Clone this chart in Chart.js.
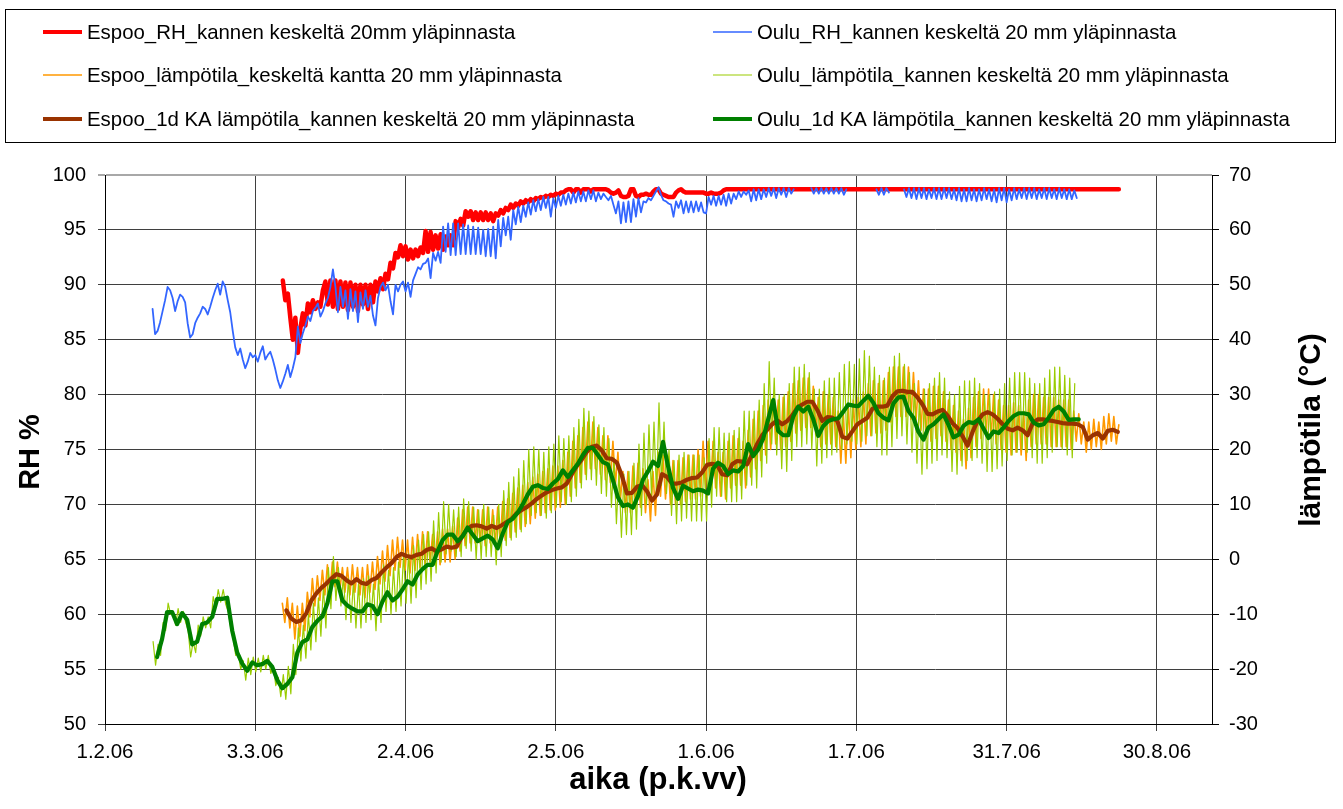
<!DOCTYPE html>
<html>
<head>
<meta charset="utf-8">
<title>RH ja lämpötila</title>
<script src="https://cdn.jsdelivr.net/npm/chart.js@4/dist/chart.umd.min.js"></script>
<style>
  html, body { margin: 0; padding: 0; background: #fff; }
  #wrap { position: relative; width: 1343px; height: 809px; }
</style>
</head>
<body>
<div id="wrap"><canvas id="c" width="1343" height="809"></canvas></div>
<script>
// Time axis: days counted from 1.2.2006
const xTickLabels = ['1.2.06', '3.3.06', '2.4.06', '2.5.06', '1.6.06', '1.7.06', '31.7.06', '30.8.06'];
const xTickStep = 30;
const xMaxDay = 221;

const seriesNames = [
  'Espoo_RH_kannen keskeltä 20mm yläpinnasta',
  'Oulu_RH_kannen keskeltä 20 mm yläpinnasta',
  'Espoo_lämpötila_keskeltä kantta 20 mm yläpinnasta',
  'Oulu_lämpötila_kannen keskeltä 20 mm yläpinnasta',
  'Espoo_1d KA lämpötila_kannen keskeltä 20 mm yläpinnasta',
  'Oulu_1d KA lämpötila_kannen keskeltä 20 mm yläpinnasta'
];

// Espoo RH %, half-day readings from day 35.5, then a flat tail
const espooRhStart = 35.5;
const espooRh = [
  90.4, 88.6, 89.2, 87.0, 85.0, 87.0, 83.8, 86.0, 87.4, 86.3,
  88.3, 87.5, 88.6, 87.8, 88.4, 88.0, 89.5, 90.3, 88.2, 90.4,
  88.0, 90.4, 87.8, 90.3, 88.0, 90.2, 87.7, 90.2, 88.0, 90.0,
  87.6, 90.0, 88.2, 90.0, 87.8, 90.0, 88.4, 90.3, 89.4, 90.6,
  89.6, 91.0, 90.5, 92.0, 91.5, 92.9, 92.5, 93.6, 92.6, 93.5,
  92.3, 93.2, 92.4, 93.2, 92.6, 93.4, 92.9, 94.9, 93.0, 94.8,
  93.2, 94.5, 93.3, 94.6, 93.2, 94.4, 93.6, 94.5, 93.6, 95.8,
  95.2, 96.0, 95.4, 96.7, 96.2, 96.7, 95.9, 96.6, 95.9, 96.6,
  95.9, 96.6, 95.9, 96.5, 95.8, 96.5, 96.3, 96.8, 96.5, 97.0,
  96.8, 97.3, 97.0, 97.4, 97.2, 97.6, 97.4, 97.7, 97.5, 97.8,
  97.6, 97.9, 97.8, 98.0, 97.9, 98.1, 98.0, 98.2, 98.1, 98.3,
  98.2, 98.4, 98.4, 98.6, 98.7, 98.7, 98.4, 98.7, 98.7, 98.4,
  98.7, 98.7, 98.7, 98.5, 98.7, 98.7, 98.7, 98.7, 98.7, 98.7,
  98.6, 98.4, 98.3, 98.4, 98.6, 98.1, 98.0, 98.0, 98.1, 98.7,
  98.7, 98.1, 98.0, 98.2, 98.2, 98.3, 98.2, 98.2, 98.5, 98.7,
  98.7, 98.3, 98.2, 98.1, 98.0, 98.0, 98.0, 98.4, 98.6, 98.7,
  98.5, 98.4, 98.4, 98.4, 98.4, 98.4, 98.4, 98.4, 98.4, 98.3,
  98.3, 98.4, 98.3, 98.3, 98.3, 98.4, 98.6, 98.7
];
const espooRhTailDays = [202.4];
const espooRhTail = [98.7];

// Oulu RH %, half-day readings from day 9.5 (null = no reading)
const ouluRhStart = 9.5;
const ouluRh = [
  87.8, 85.5, 85.8, 86.6, 87.6, 88.6, 89.8, 89.5, 88.8, 87.6,
  88.5, 89.1, 88.9, 88.4, 86.5, 85.2, 85.5, 86.5, 87.0, 87.4,
  88.0, 87.8, 87.3, 88.0, 88.8, 89.5, 90.1, 89.1, 90.3, 89.8,
  88.6, 87.5, 85.8, 84.3, 83.6, 84.2, 83.2, 82.4, 83.0, 83.8,
  83.4, 83.6, 83.0, 83.8, 84.4, 83.2, 83.6, 83.9, 83.2, 82.3,
  81.3, 80.6, 81.2, 81.9, 82.7, 81.6, 82.4, 83.4, 86.2, 84.7,
  85.6, 86.3, 87.1, 86.7, 87.6, 87.9, 88.3, 87.1, 87.6, 88.3,
  88.8, 89.8, 91.4, 89.8, 87.5, 89.8, 88.0, 89.5, 86.9, 89.6,
  87.6, 89.4, 86.6, 89.3, 87.8, 89.5, 88.0, 89.0, 87.2, 86.3,
  88.8, 89.8, 90.2, 89.5, 90.0, 88.5, 87.3, 90.0, 89.4, 90.0,
  90.3, 89.4, 90.2, 88.9, 90.4, 91.0, 91.6, 91.4, 91.9, 92.0,
  92.4, 90.6, 92.9, 92.2, 93.0, 92.0, 95.3, 93.0, 95.6, 92.7,
  95.6, 92.7, 95.6, 92.8, 95.5, 92.8, 95.4, 92.8, 95.3, 92.8,
  95.2, 92.8, 95.0, 92.6, 95.1, 92.6, 95.3, 92.4, 95.9, 93.5,
  96.1, 94.5, 96.2, 94.1, 96.8, 95.5, 97.1, 95.7, 97.2, 96.2,
  97.5, 96.4, 97.7, 96.7, 97.8, 96.8, 98.0, 97.0, 98.0, 96.2,
  97.9, 97.0, 98.1, 97.2, 98.2, 97.3, 98.3, 97.4, 98.4, 97.5,
  98.5, 97.6, 98.5, 97.6, 98.6, 97.8, 98.6, 97.6, 98.4, 97.8,
  98.3, 98.0, 97.7, 98.1, 97.3, 96.5, 97.6, 95.6, 97.5, 95.7,
  97.6, 95.7, 97.8, 96.2, 97.9, 96.6, 97.6, 97.5, 97.9, 97.7,
  98.1, 98.5, 98.9, 98.2, 97.7, 97.6, 97.4, 97.3, 96.2, 97.6,
  97.0, 97.7, 96.5, 97.6, 96.6, 97.6, 96.6, 97.6, 96.7, 97.5,
  96.6, 96.5, 98.0, 97.3, 98.1, 97.2, 98.1, 97.3, 98.2, 97.2,
  98.3, 97.4, 98.3, 97.8, 98.5, 98.0, 98.5, 98.2, 98.6, 97.6,
  98.7, 97.7, 98.7, 97.8, 98.7, 98.0, 98.8, 98.1, 98.8, 97.9,
  98.8, 98.2, 98.8, 98.0, 98.8, 98.3, 98.7, null, null, null,
  null, null, null, 98.8, 98.3, 98.8, 98.3, 98.8, 98.3, 98.8,
  98.3, 98.8, 98.3, 98.8, 98.3, 98.8, 98.2, 98.7, null, null,
  null, null, null, null, null, null, null, null, null, 98.7,
  98.2, 98.8, 98.2, 98.8, 98.4, null, null, null, null, null,
  98.7, 98.0, 98.8, 97.9, 98.8, 97.8, 98.8, 97.9, 98.8, 97.8,
  98.7, 97.9, 98.8, 97.8, 98.8, 97.8, 98.8, 97.9, 98.8, 97.8,
  98.7, 97.7, 98.8, 97.6, 98.7, 97.6, 98.8, 97.7, 98.7, 97.6,
  98.7, 97.7, 98.8, 97.8, 98.7, 97.6, 98.7, 97.5, 98.8, 97.7,
  98.8, 97.5, 98.7, 97.7, 98.8, 97.8, 98.7, 97.9, 98.8, 97.8,
  98.8, 97.9, 98.8, 97.8, 98.7, 97.9, 98.8, 97.8, 98.8, 97.9,
  98.7, 97.8, 98.8, 97.9, 98.7, 97.8, 98.7, 97.8, 98.6, 97.9
];

// Espoo temperature °C, half-day readings from day 35.4
const espooTempStart = 35.4;
const espooTemp = [
  -8.0, -11.5, -7.0, -12.5, -8.0, -14.5, -8.5, -14.0, -8.0, -13.0,
  -6.0, -10.5, -3.5, -8.5, -3.0, -7.5, -2.0, -6.5, -1.0, -6.0,
  -0.5, -5.0, -0.5, -5.5, -1.5, -6.0, -1.5, -6.5, -1.0, -6.0,
  -1.5, -6.5, -1.5, -7.0, -1.0, -6.0, -0.5, -5.5, 0.5, -4.5,
  1.5, -4.0, 2.5, -3.0, 3.5, -2.0, 4.0, -1.5, 3.5, -2.0,
  3.5, -2.5, 4.0, -2.0, 4.5, -1.5, 5.0, -1.0, 5.0, -0.5,
  4.5, -1.0, 5.0, -1.0, 5.5, -0.5, 5.5, -0.5, 6.0, 0.0,
  7.5, 1.5, 9.0, 2.5, 9.5, 3.0, 9.5, 3.0, 9.0, 3.0,
  9.0, 2.5, 9.5, 3.0, 9.0, 2.5, 9.5, 3.0, 10.5, 3.5,
  11.0, 4.0, 12.0, 5.0, 13.0, 5.5, 13.5, 6.0, 14.0, 6.5,
  15.0, 7.5, 15.5, 8.0, 16.0, 8.5, 16.5, 9.0, 17.0, 9.0,
  17.0, 9.5, 18.0, 10.0, 19.5, 11.5, 21.5, 13.0, 22.5, 14.0,
  24.0, 15.5, 25.0, 16.5, 25.0, 16.5, 24.0, 15.5, 22.5, 14.5,
  22.5, 14.0, 21.5, 13.5, 19.5, 11.0, 16.0, 8.5, 16.0, 8.5,
  17.0, 9.5, 17.5, 9.5, 16.5, 8.5, 14.5, 7.0, 16.0, 8.0,
  19.5, 11.5, 19.0, 11.0, 18.0, 10.0, 18.0, 10.0, 18.0, 10.0,
  18.5, 10.5, 19.0, 11.0, 19.0, 11.0, 20.0, 11.5, 21.5, 13.0,
  21.5, 13.0, 21.5, 13.0, 19.5, 11.5, 19.5, 11.0, 21.5, 13.0,
  22.5, 13.5, 22.0, 13.5, 21.5, 13.0, 23.5, 15.0, 25.5, 16.5,
  27.0, 18.0, 28.0, 19.0, 29.0, 20.0, 29.5, 21.0, 29.0, 20.0,
  29.5, 20.5, 30.5, 21.5, 32.0, 23.0, 32.5, 23.5, 33.0, 24.0,
  33.0, 24.0, 31.5, 22.5, 29.5, 20.5, 30.5, 21.0, 30.0, 21.0,
  29.5, 20.5, 27.0, 17.5, 26.5, 17.5, 28.0, 18.5, 29.0, 20.0,
  29.5, 20.5, 30.5, 21.0, 32.0, 22.5, 32.5, 23.0, 32.0, 23.0,
  32.5, 23.5, 34.0, 25.0, 35.0, 26.0, 35.0, 26.0, 35.0, 26.0,
  35.0, 25.5, 34.0, 25.0, 32.5, 23.5, 31.0, 22.0, 31.0, 21.5,
  31.5, 22.0, 31.5, 22.5, 30.5, 21.5, 29.0, 20.0, 28.0, 19.5,
  27.0, 18.0, 25.5, 16.5, 27.5, 18.5, 29.5, 20.5, 30.5, 22.0,
  31.0, 22.5, 31.0, 22.0, 30.0, 21.0, 29.0, 20.0, 28.0, 19.5,
  28.0, 19.0, 28.5, 19.5, 28.0, 19.0, 27.0, 18.0, 29.0, 20.5,
  30.0, 21.0, 30.0, 21.0, 29.5, 21.0, 29.5, 20.5, 29.5, 20.5,
  29.0, 20.5, 29.0, 20.5, 29.0, 20.0, 27.0, 21.5, 26.5, 21.0,
  25.0, 19.5, 25.0, 20.0, 25.5, 20.5, 25.0, 20.0, 26.0, 21.0,
  26.5, 21.5, 26.0, 21.0, 24.5
];

// Oulu temperature °C, half-day readings from day 9.6
const ouluTempStart = 9.6;
const ouluTemp = [
  -15.0, -19.3, -15.5, -17.5, -11.5, -13.0, -8.0, -10.0, -9.5, -12.0,
  -9.0, -11.5, -9.5, -11.5, -13.0, -17.8, -15.0, -17.0, -12.0, -14.0,
  -10.5, -12.5, -10.5, -12.5, -6.8, -8.8, -5.5, -7.8, -5.5, -8.2,
  -9.5, -12.5, -14.5, -17.5, -17.0, -20.0, -18.5, -22.0, -18.0, -21.0,
  -17.8, -20.5, -18.0, -20.5, -17.5, -20.0, -17.5, -20.8, -19.5, -23.0,
  -21.5, -25.0, -21.0, -25.5, -19.5, -24.5, -15.5, -21.0, -12.5, -18.5,
  -12.0, -18.0, -10.0, -16.5, -8.0, -15.0, -7.0, -14.0, -5.0, -12.5,
  -1.5, -9.0, 0.5, -7.5, -1.5, -8.5, -3.0, -11.0, -3.5, -11.5,
  -4.0, -12.5, -4.5, -12.5, -3.5, -11.5, -3.0, -11.0, -4.5, -13.0,
  -3.5, -11.5, -1.0, -9.5, -2.0, -10.0, -1.5, -9.5, -0.5, -8.5,
  1.0, -8.0, 1.0, -8.0, 2.5, -7.0, 3.5, -5.5, 4.5, -4.5,
  5.0, -4.0, 7.0, -2.5, 8.5, -0.5, 10.5, 1.0, 10.0, 1.5,
  9.0, 0.5, 9.5, 0.5, 11.0, 2.0, 10.5, 1.5, 9.5, 0.0,
  9.0, 0.0, 10.0, 0.5, 9.5, 0.5, 8.0, -1.0, 10.0, 0.5,
  12.5, 2.5, 14.0, 3.5, 15.0, 4.0, 16.5, 5.0, 18.0, 6.5,
  20.0, 8.0, 20.5, 8.5, 20.0, 8.0, 19.5, 7.5, 20.5, 8.5,
  21.0, 9.5, 22.5, 10.5, 22.0, 10.0, 22.5, 10.5, 24.0, 11.5,
  25.5, 13.0, 27.5, 14.5, 27.0, 14.5, 26.0, 13.5, 24.5, 12.0,
  24.0, 11.5, 22.0, 9.5, 18.5, 6.5, 16.0, 4.0, 15.5, 4.5,
  16.0, 4.5, 17.5, 5.5, 21.0, 8.0, 23.0, 10.0, 24.5, 11.5,
  25.0, 12.0, 28.5, 13.5, 25.0, 12.0, 20.0, 8.0, 18.0, 6.5,
  19.0, 7.0, 19.5, 7.5, 19.0, 7.0, 19.0, 7.0, 19.0, 7.0,
  18.5, 7.0, 22.0, 9.5, 24.0, 11.5, 24.0, 11.5, 23.0, 10.5,
  23.0, 10.5, 23.5, 10.5, 24.0, 11.0, 27.0, 13.5, 27.0, 13.5,
  27.0, 13.0, 29.0, 15.0, 32.0, 17.5, 36.0, 21.0, 33.0, 19.0,
  30.0, 16.5, 30.0, 16.0, 32.0, 18.0, 35.0, 20.5, 35.0, 20.5,
  35.5, 21.0, 34.0, 20.0, 31.0, 17.0, 31.0, 17.5, 32.5, 18.5,
  33.0, 19.0, 33.0, 19.5, 34.0, 20.0, 35.5, 21.0, 36.0, 21.5,
  35.5, 21.0, 36.5, 21.5, 38.0, 22.5, 37.0, 22.5, 35.0, 20.5,
  33.5, 19.0, 33.0, 19.0, 35.0, 20.5, 37.0, 22.0, 37.5, 22.5,
  35.5, 21.0, 34.0, 19.5, 32.0, 17.5, 29.5, 15.5, 31.0, 16.5,
  32.0, 17.5, 33.0, 18.0, 34.0, 19.0, 33.0, 18.5, 30.5, 16.0,
  30.0, 15.5, 31.5, 17.0, 32.5, 18.0, 32.5, 18.0, 33.0, 18.5,
  32.0, 17.5, 30.0, 16.0, 30.0, 16.0, 30.5, 16.5, 31.0, 17.0,
  32.0, 18.0, 33.0, 19.0, 34.0, 19.5, 34.0, 20.0, 34.0, 19.5,
  33.0, 18.5, 32.0, 17.5, 32.0, 17.5, 33.0, 18.5, 34.5, 19.5,
  35.0, 20.5, 35.0, 20.0, 33.5, 19.0, 33.0, 18.5, 32.0
];

// Espoo 1-day moving average °C, daily from day 36.2
const espooAvgStart = 36.2;
const espooAvg = [
  -9.3, -10.8, -11.4, -11.1, -9.8, -7.5, -6.2, -5.2, -4.4, -3.5,
  -2.7, -3.0, -3.8, -4.4, -3.6, -4.3, -4.5, -3.8, -3.4, -2.4,
  -1.5, -0.7, 0.4, 1.0, 0.6, 0.4, 0.8, 1.0, 1.7, 2.0,
  1.4, 1.8, 2.3, 2.1, 2.3, 4.0, 5.4, 6.1, 6.2, 6.0,
  5.6, 6.1, 5.7, 6.2, 6.8, 7.4, 8.4, 9.0, 9.5, 10.2,
  11.0, 11.6, 12.2, 12.6, 12.9, 13.1, 13.8, 15.5, 17.0, 18.2,
  19.6, 20.5, 20.7, 19.8, 18.4, 18.3, 17.6, 15.2, 12.0, 12.1,
  13.2, 13.5, 12.4, 10.7, 11.8, 15.5, 15.0, 13.8, 13.8, 14.0,
  14.5, 14.8, 14.9, 15.8, 17.2, 17.4, 17.2, 15.5, 15.3, 17.3,
  17.9, 17.8, 17.3, 19.1, 21.0, 22.6, 23.6, 24.6, 25.3, 24.6,
  25.2, 26.2, 27.6, 28.2, 28.7, 28.7, 27.2, 25.2, 25.9, 25.8,
  25.2, 22.3, 22.0, 23.3, 24.6, 25.2, 25.8, 27.4, 27.8, 27.8,
  28.0, 29.7, 30.6, 30.7, 30.5, 30.5, 29.5, 28.2, 26.5, 26.4,
  26.9, 27.2, 26.2, 24.8, 23.9, 22.4, 20.7, 23.2, 25.2, 26.4,
  26.8, 26.4, 25.6, 24.6, 23.8, 23.5, 24.0, 23.5, 22.6, 24.8,
  25.5, 25.5, 25.3, 25.2, 25.0, 24.8, 24.7, 24.7, 24.6, 24.1,
  21.8, 22.6, 23.0, 22.0, 23.4, 23.6, 23.2
];

// Oulu 1-day moving average °C, daily from day 10.4
const ouluAvgStart = 10.4;
const ouluAvg = [
  -17.8, -14.5, -9.6, -9.6, -11.8, -9.8, -11.0, -15.5, -15.0, -11.8,
  -11.5, -10.5, -7.2, -7.2, -7.0, -13.0, -17.0, -19.0, -20.3, -18.8,
  -19.3, -19.1, -18.5, -19.6, -22.0, -23.5, -22.7, -21.5, -17.0, -15.1,
  -14.6, -12.3, -11.2, -10.4, -8.0, -4.0, -4.0, -7.5, -8.4, -9.0,
  -9.5, -9.5, -8.2, -8.5, -10.0, -7.7, -6.0, -7.5, -6.8, -5.5,
  -4.0, -4.6, -2.8, -1.8, -1.0, -1.0, 1.5, 3.5, 4.5, 4.5,
  3.3, 4.2, 5.8, 4.5, 3.3, 3.8, 4.3, 3.6, 2.0, 4.7,
  6.8, 7.4, 8.5, 10.0, 11.8, 13.2, 13.5, 13.0, 12.8, 13.8,
  14.6, 16.2, 15.0, 16.2, 17.4, 19.0, 20.3, 20.3, 19.0, 17.7,
  17.3, 14.4, 11.3, 9.7, 10.0, 9.4, 11.5, 14.5, 16.0, 17.8,
  17.0, 21.4, 17.0, 13.0, 11.0, 13.4, 12.9, 12.4, 12.7, 12.5,
  12.0, 16.5, 17.6, 17.0, 15.5, 16.2, 16.0, 17.0, 21.0, 18.8,
  20.0, 22.0, 25.5, 29.0, 23.4, 22.6, 22.6, 26.0, 27.8, 26.9,
  27.8, 25.5, 22.5, 24.3, 25.2, 25.5, 25.7, 26.9, 28.2, 28.0,
  27.9, 28.9, 29.8, 28.5, 26.6, 25.8, 25.3, 28.4, 29.5, 29.6,
  27.0, 25.8, 23.2, 21.8, 24.0, 24.6, 25.5, 26.4, 24.5, 22.2,
  22.7, 24.3, 25.0, 24.8, 25.5, 23.8, 22.1, 23.3, 23.0, 24.0,
  25.2, 26.1, 26.6, 26.6, 26.4, 24.9, 24.4, 24.6, 25.8, 27.2,
  27.8, 26.9, 25.4, 25.5, 25.5
];

// Turns an evenly spaced reading list into {x: day, y: value} points
function toPoints(start, step, values) {
  return values.map((v, i) => ({ x: start + i * step, y: v }));
}

const espooRhPoints = toPoints(espooRhStart, 0.5, espooRh)
  .concat(espooRhTailDays.map((d, i) => ({ x: d, y: espooRhTail[i] })));

const FONT = "Arial, 'Liberation Sans', Helvetica, sans-serif";
const GRID = '#3f3f3f';

function lineSet(label, data, color, width, legendWidth, axis, order) {
  return {
    label, data, yAxisID: axis, order, legendWidth,
    borderColor: color, backgroundColor: color, borderWidth: width,
    pointRadius: 0, pointHoverRadius: 0, tension: 0, spanGaps: false,
    borderJoinStyle: 'round', borderCapStyle: 'round', fill: false
  };
}

const datasets = [
  lineSet(seriesNames[0], espooRhPoints, '#FF0000', 4.5, 4, 'y', 6),
  lineSet(seriesNames[1], toPoints(ouluRhStart, 0.5, ouluRh), '#3366FF', 1.8, 1.6, 'y', 5),
  lineSet(seriesNames[2], toPoints(espooTempStart, 0.5, espooTemp), '#FF9900', 1.6, 1.6, 'y2', 4),
  lineSet(seriesNames[3], toPoints(ouluTempStart, 0.5, ouluTemp), '#99CC00', 1.2, 1.2, 'y2', 3),
  lineSet(seriesNames[4], toPoints(espooAvgStart, 1, espooAvg), '#993300', 4.2, 4, 'y2', 2),
  lineSet(seriesNames[5], toPoints(ouluAvgStart, 1, ouluAvg), '#008000', 4.2, 4, 'y2', 1)
];

// Boxed two-column legend above the plot
const legendBox = {
  id: 'legendBox',
  afterDraw(chart) {
    const ctx = chart.ctx;
    ctx.save();
    ctx.strokeStyle = '#000';
    ctx.lineWidth = 1;
    ctx.strokeRect(5.5, 9.5, 1330, 133);
    const colX = [43, 713];
    const rowY = [32, 75, 119];
    ctx.font = '20.4px ' + FONT;
    ctx.textBaseline = 'middle';
    ctx.textAlign = 'left';
    chart.data.datasets.forEach((ds, i) => {
      const x = colX[i % 2], y = rowY[Math.floor(i / 2)];
      ctx.strokeStyle = ds.borderColor;
      ctx.lineWidth = ds.legendWidth;
      ctx.lineCap = 'butt';
      ctx.beginPath();
      ctx.moveTo(x, y);
      ctx.lineTo(x + 39, y);
      ctx.stroke();
      ctx.fillStyle = '#000';
      ctx.fillText(ds.label, x + 44, y + 1);
    });
    ctx.restore();
  }
};

// Axis titles (both vertical titles read bottom-to-top)
const axisTitles = {
  id: 'axisTitles',
  afterDraw(chart) {
    const ctx = chart.ctx;
    ctx.save();
    ctx.fillStyle = '#000';
    ctx.textAlign = 'center';
    ctx.textBaseline = 'middle';
    ctx.font = 'bold 31px ' + FONT;
    ctx.fillText('aika (p.k.vv)', 658, 780);
    ctx.font = 'bold 29px ' + FONT;
    ctx.translate(31, 452);
    ctx.rotate(-Math.PI / 2);
    ctx.fillText('RH %', 0, 0);
    ctx.restore();
    ctx.save();
    ctx.fillStyle = '#000';
    ctx.textAlign = 'center';
    ctx.textBaseline = 'middle';
    ctx.font = 'bold 30px ' + FONT;
    ctx.translate(1312, 430);
    ctx.rotate(-Math.PI / 2);
    ctx.fillText('lämpötila (°C)', 0, 0);
    ctx.restore();
  }
};

new Chart(document.getElementById('c'), {
  type: 'line',
  data: { datasets },
  plugins: [legendBox, axisTitles],
  options: {
    responsive: false,
    animation: false,
    events: [],
    layout: { padding: { top: 175, left: 0, right: 0, bottom: 0 } },
    plugins: { legend: { display: false }, tooltip: { enabled: false }, title: { display: false } },
    scales: {
      x: {
        type: 'linear', position: 'bottom', min: 0, max: xMaxDay,
        afterFit(s) { s.height = 85; },
        ticks: {
          stepSize: xTickStep, includeBounds: false, autoSkip: false, maxRotation: 0,
          color: '#000', font: { family: FONT, size: 20.5 }, padding: 9,
          callback: (v) => xTickLabels[Math.round(v / xTickStep)] || ''
        },
        grid: { color: GRID, lineWidth: 1, tickLength: 7, drawTicks: true },
        border: { color: '#000', width: 1 }
      },
      y: {
        position: 'left', min: 50, max: 100,
        afterFit(s) { s.width = 105; },
        ticks: { stepSize: 5, color: '#000', font: { family: FONT, size: 20 }, padding: 12 },
        grid: {
          color: (c) => (c.tick && c.tick.value === 100 ? '#a8a8a8' : GRID),
          lineWidth: (c) => (c.tick && c.tick.value === 100 ? 2 : 1),
          tickLength: 7, drawTicks: true
        },
        border: { color: '#000', width: 1 }
      },
      y2: {
        position: 'right', min: -30, max: 70,
        afterFit(s) { s.width = 131; },
        ticks: { stepSize: 10, color: '#000', font: { family: FONT, size: 20 }, padding: 10 },
        grid: { drawOnChartArea: false, color: '#000', tickLength: 7, drawTicks: true },
        border: { color: '#000', width: 1 }
      }
    }
  }
});
</script>
</body>
</html>
